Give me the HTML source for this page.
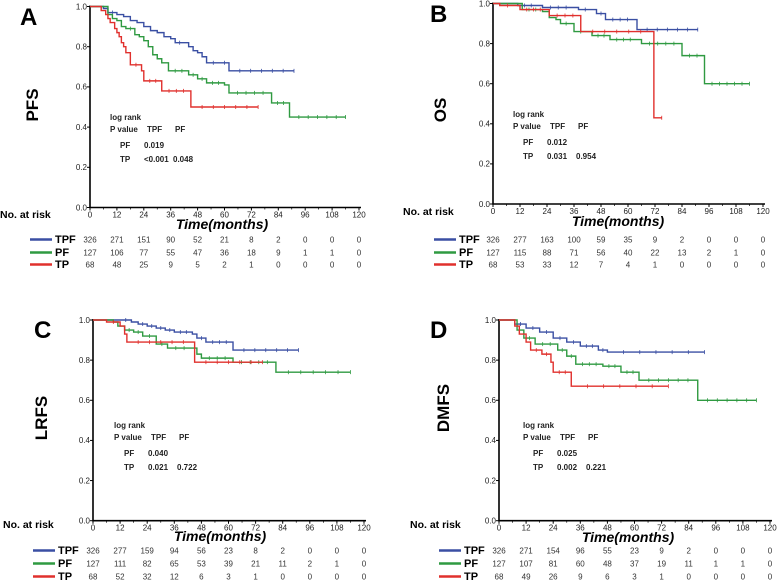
<!DOCTYPE html>
<html><head><meta charset="utf-8">
<style>
html,body{margin:0;padding:0;background:#fff;}
svg{display:block;font-family:"Liberation Sans",Arial,sans-serif;}
</style></head>
<body>
<svg id="fig" width="778" height="582" viewBox="0 0 778 582" xmlns="http://www.w3.org/2000/svg"></svg>
<script>
// ===== Data =====
const xTicks = [0,12,24,36,48,60,72,84,96,108,120];
const yTicks = [0,0.2,0.4,0.6,0.8,1.0];
const groups = ["TPF","PF","TP"];

// Panel A (PFS) step curves: [time, survival]
const pfsTPF = [[0,1],[5,1],[6,0.99],[8,0.97],[12,0.96],[15,0.95],[18,0.93],[21,0.92],[24,0.90],[27,0.88],[30,0.87],[33,0.85],[36,0.84],[38,0.82],[42,0.82],[44,0.80],[46,0.78],[48,0.77],[50,0.75],[52,0.72],[58,0.72],[62,0.68],[91,0.68]];
const pfsPF = [[0,1],[7,1],[8,0.96],[10,0.94],[12,0.93],[14,0.90],[16,0.89],[20,0.86],[22,0.85],[24,0.83],[26,0.80],[28,0.76],[30,0.74],[32,0.72],[35,0.68],[44,0.66],[48,0.64],[52,0.62],[60,0.61],[62,0.57],[81,0.52],[89,0.45],[114,0.45]];
const pfsTP = [[0,1],[4,1],[5,0.98],[7,0.96],[8,0.94],[9,0.92],[11,0.89],[12,0.87],[13,0.85],[14,0.82],[15,0.80],[16,0.77],[18,0.71],[23,0.68],[24,0.63],[32,0.58],[45,0.50],[75,0.50]];
const pfsP = ["0.019","<0.001","0.048"];
const pfsRiskTPF = [326,271,151,90,52,21,8,2,0,0,0];
const pfsRiskPF = [127,106,77,55,47,36,18,9,1,1,0];
const pfsRiskTP = [68,48,25,9,5,2,1,0,0,0,0];

// Panel B (OS)
const osTPF = [[0,1],[10,1],[11,0.99],[20,0.99],[22,0.98],[36,0.98],[38,0.97],[44,0.97],[46,0.95],[50,0.92],[63,0.92],[64,0.87],[91,0.87]];
const osPF = [[0,1],[12,1],[13,0.97],[22,0.96],[25,0.93],[28,0.92],[30,0.90],[35,0.90],[36,0.86],[42,0.86],[44,0.84],[52,0.82],[64,0.82],[66,0.80],[84,0.74],[94,0.60],[114,0.60]];
const osTP = [[0,1],[3,0.99],[10,0.99],[12,0.97],[24,0.97],[25,0.94],[39,0.86],[71,0.86],[71.5,0.43],[75,0.43]];
const osP = ["0.012","0.031","0.954"];
const osRiskTPF = [326,277,163,100,59,35,9,2,0,0,0];
const osRiskPF = [127,115,88,71,56,40,22,13,2,1,0];
const osRiskTP = [68,53,33,12,7,4,1,0,0,0,0];

// Panel C (LRFS)
const lrfsTPF = [[0,1],[12,1],[17,0.99],[20,0.98],[24,0.97],[28,0.96],[32,0.95],[36,0.94],[44,0.93],[46,0.91],[50,0.89],[62,0.85],[91,0.85]];
const lrfsPF = [[0,1],[8,1],[9,0.99],[11,0.97],[14,0.95],[18,0.94],[22,0.92],[28,0.88],[33,0.86],[44,0.86],[46,0.83],[48,0.81],[62,0.79],[81,0.74],[114,0.74]];
const lrfsTP = [[0,1],[6,0.99],[12,0.97],[14,0.93],[15,0.89],[45,0.79],[75,0.79]];
const lrfsP = ["0.040","0.021","0.722"];
const lrfsRiskTPF = [326,277,159,94,56,23,8,2,0,0,0];
const lrfsRiskPF = [127,111,82,65,53,39,21,11,2,1,0];
const lrfsRiskTP = [68,52,32,12,6,3,1,0,0,0,0];

// Panel D (DMFS)
const dmfsTPF = [[0,1],[6,1],[7,0.98],[12,0.96],[18,0.94],[24,0.91],[30,0.89],[36,0.87],[44,0.85],[48,0.84],[91,0.84]];
const dmfsPF = [[0,1],[6,1],[8,0.95],[11,0.91],[16,0.88],[26,0.85],[30,0.82],[34,0.78],[46,0.77],[54,0.74],[62,0.70],[88,0.60],[114,0.60]];
const dmfsTP = [[0,1],[6,1],[7,0.97],[9,0.93],[12,0.89],[14,0.85],[19,0.83],[23,0.79],[24,0.74],[32,0.67],[75,0.67]];
const dmfsP = ["0.025","0.002","0.221"];
const dmfsRiskTPF = [326,271,154,96,55,23,9,2,0,0,0];
const dmfsRiskPF = [127,107,81,60,48,37,19,11,1,1,0];
const dmfsRiskTP = [68,49,26,9,6,3,1,0,0,0,0];

const colors = {TPF:"#3a4fa3",PF:"#2f9a41",TP:"#e0302d"};

const panels = [
 {id:"a",letter:"A",title:"PFS",curves:[pfsTPF,pfsPF,pfsTP],p:pfsP,risk:[pfsRiskTPF,pfsRiskPF,pfsRiskTP],
  x0:90,x1:359,y0:207.5,y1:6.5,letX:20,letY:25,titX:38,titY:105,narX:0,narY:218,timeX:222,timeY:229,rowY:[243,256,268],legX:30,lrX:110,lrY:120},
 {id:"b",letter:"B",title:"OS",curves:[osTPF,osPF,osTP],p:osP,risk:[osRiskTPF,osRiskPF,osRiskTP],
  x0:493,x1:763,y0:204,y1:3.5,letX:430,letY:22,titX:446,titY:110,narX:403,narY:215,timeX:618,timeY:226,rowY:[243,256,268],legX:434,lrX:513,lrY:117},
 {id:"c",letter:"C",title:"LRFS",curves:[lrfsTPF,lrfsPF,lrfsTP],p:lrfsP,risk:[lrfsRiskTPF,lrfsRiskPF,lrfsRiskTP],
  x0:93,x1:364,y0:520.7,y1:320,letX:34,letY:338,titX:47,titY:418,narX:3,narY:528,timeX:220,timeY:541,rowY:[554,567,580],legX:33,lrX:114,lrY:428},
 {id:"d",letter:"D",title:"DMFS",curves:[dmfsTPF,dmfsPF,dmfsTP],p:dmfsP,risk:[dmfsRiskTPF,dmfsRiskPF,dmfsRiskTP],
  x0:499,x1:770,y0:520.7,y1:320,letX:430,letY:338,titX:449,titY:408,narX:410,narY:528,timeX:628,timeY:542,rowY:[554,567,580],legX:439,lrX:523,lrY:428}
];

const NS="http://www.w3.org/2000/svg";
const svg=document.getElementById("fig");
function mk(tag,attrs,parent){const e=document.createElementNS(NS,tag);for(const k in attrs)e.setAttribute(k,attrs[k]);(parent||svg).appendChild(e);return e;}
function txt(s,attrs,parent){const e=mk("text",attrs,parent);e.textContent=s;return e;}

panels.forEach(P=>{
  const g=mk("g",{});
  
  
  const xs=t=>P.x0+(t/120)*(P.x1-P.x0);
  const ys=v=>P.y0-v*(P.y0-P.y1);

  const L=txt(P.letter,{x:P.letX,y:P.letY,"font-size":24,"font-weight":"bold"},g);
  
  
  const T=txt(P.title,{x:P.titX,y:P.titY,"font-size":17,"font-weight":"bold","text-anchor":"middle",transform:`rotate(-90 ${P.titX} ${P.titY})`},g);
  
  

  // axes
  const ax=mk("path",{d:`M${P.x0},${P.y1-1}V${P.y0}H${P.x1+2}`,stroke:"#000","stroke-width":1.6,fill:"none"},g);
  
  
  yTicks.forEach(v=>{
    mk("line",{x1:P.x0-3,x2:P.x0,y1:ys(v),y2:ys(v),stroke:"#000","stroke-width":1},g);
    const t=txt(v.toFixed(1),{x:P.x0-3,y:ys(v)+2.8,"font-size":8,"text-anchor":"end",fill:"#222"},g);
    
    
  });
  xTicks.forEach((v,i)=>{
    mk("line",{x1:xs(v),x2:xs(v),y1:P.y0,y2:P.y0+3,stroke:"#000","stroke-width":1},g);
    if(i<xTicks.length-1) mk("line",{x1:xs(v+6),x2:xs(v+6),y1:P.y0,y2:P.y0+2,stroke:"#000","stroke-width":0.7},g);
    const t=txt(String(v),{x:xs(v),y:P.y0+10,"font-size":8,"text-anchor":"middle",fill:"#222"},g);
    
    
  });
  const tm=txt("Time(months)",{x:P.timeX,y:P.timeY,"font-size":14,"font-weight":"bold","font-style":"italic","text-anchor":"middle"},g);
  
  
  const nar=txt("No. at risk",{x:P.narX,y:P.narY,"font-size":10.5,"font-weight":"bold"},g);
  
  

  // curves
  P.curves.forEach((c,gi)=>{
    let d=`M${xs(c[0][0])},${ys(c[0][1])}`;
    for(let i=1;i<c.length;i++){d+=`H${xs(c[i][0])}V${ys(c[i][1])}`;}
    const p=mk("path",{d,stroke:colors[groups[gi]],"stroke-width":1.4,fill:"none"},g);
    
    
    // censor marks along flat segments
    const end=c[c.length-1][0];
    for(let i=0;i<c.length-1;i++){
      const a=c[i][0],b=c[i+1][0],v=c[i+1][1]===undefined?c[i][1]:c[i][1];
      const span=b-a; if(span<3||i===0) continue;
      const n=Math.min(5,Math.floor(span/4));
      for(let k=1;k<=n;k++){const t=a+span*k/(n+1);
        mk("line",{x1:xs(t),x2:xs(t),y1:ys(c[i][1])-2,y2:ys(c[i][1])+2,stroke:colors[groups[gi]],"stroke-width":0.8},g);}
    }
    mk("line",{x1:xs(end),x2:xs(end),y1:ys(c[c.length-1][1])-2,y2:ys(c[c.length-1][1])+2,stroke:colors[groups[gi]],"stroke-width":0.8},g);
  });

  // log rank box
  const lr=mk("g",{"font-size":8,"font-weight":"bold",fill:"#222"},g);
  
  
  txt("log rank",{x:P.lrX,y:P.lrY},lr);
  txt("P value",{x:P.lrX,y:P.lrY+12},lr);
  txt("TPF",{x:P.lrX+37,y:P.lrY+12},lr);
  txt("PF",{x:P.lrX+65,y:P.lrY+12},lr);
  txt("PF",{x:P.lrX+10,y:P.lrY+28},lr);
  txt(P.p[0],{x:P.lrX+34,y:P.lrY+28},lr);
  txt("TP",{x:P.lrX+10,y:P.lrY+42},lr);
  txt(P.p[1],{x:P.lrX+34,y:P.lrY+42},lr);
  txt(P.p[2],{x:P.lrX+63,y:P.lrY+42},lr);

  // risk table + legend
  groups.forEach((gname,gi)=>{
    const y=P.rowY[gi];
    const ln=mk("line",{x1:P.legX,x2:P.legX+22,y1:y-3.5,y2:y-3.5,stroke:colors[gname],"stroke-width":2.5},g);
    
    
    const lb=txt(gname,{x:P.legX+25,y:y,"font-size":11,"font-weight":"bold"},g);
    
    
    P.risk[gi].forEach((n,i)=>{
      const t=txt(String(n),{x:xs(xTicks[i]),y:y-0.5,"font-size":8,"text-anchor":"middle",fill:"#333"},g);
      
      
    });
  });
});
</script>
</body></html>
